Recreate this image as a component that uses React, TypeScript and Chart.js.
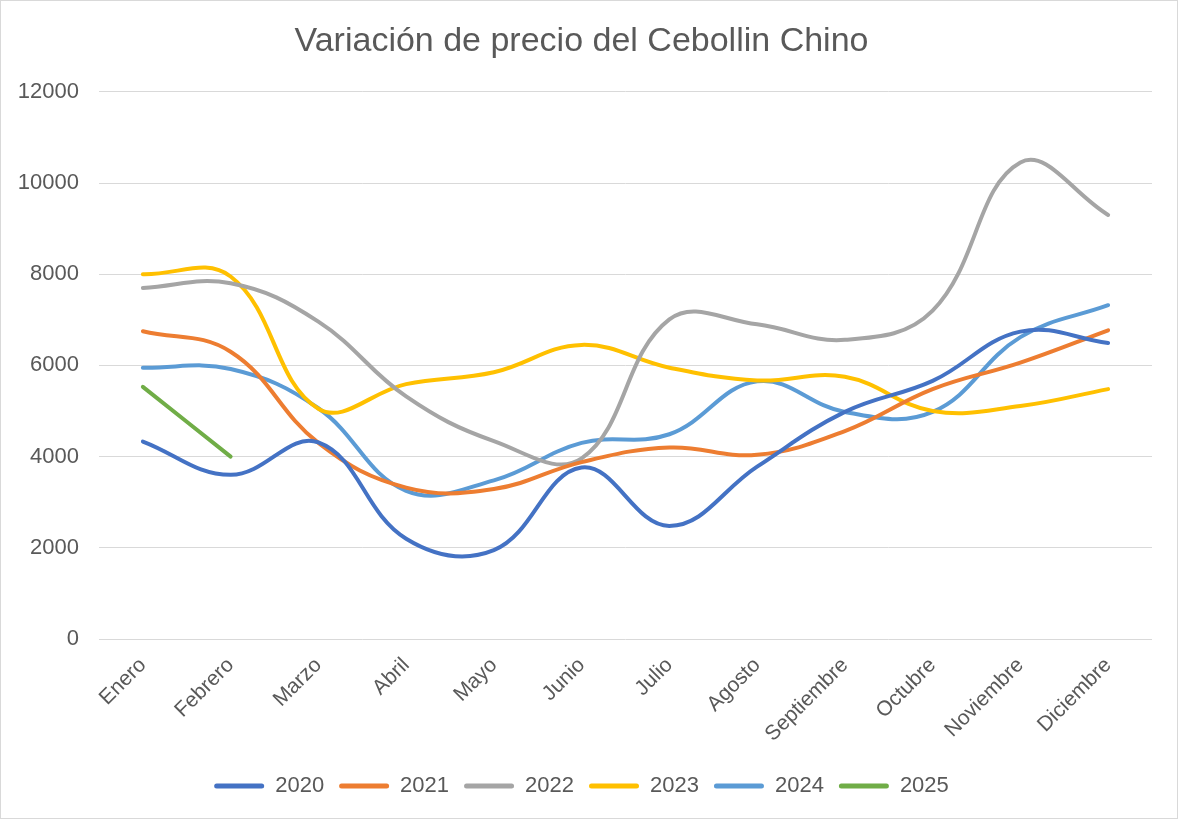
import React, { useEffect, useRef } from "react";
import { Chart, registerables } from "chart.js";

Chart.register(...registerables);

const months = ["Enero", "Febrero", "Marzo", "Abril", "Mayo", "Junio", "Julio", "Agosto", "Septiembre", "Octubre", "Noviembre", "Diciembre"];
const y2020 = [4330, 3600, 4310, 2200, 1950, 3760, 2480, 3780, 4980, 5660, 6740, 6490];
const y2021 = [6750, 6300, 4300, 3320, 3290, 3880, 4200, 4040, 4560, 5480, 6060, 6770];
const y2022 = [7700, 7800, 6960, 5320, 4340, 3960, 7010, 6900, 6560, 7200, 10450, 9300];
const y2023 = [8000, 7950, 5050, 5590, 5850, 6450, 5950, 5670, 5750, 5000, 5110, 5480];
const y2024 = [5950, 5920, 5060, 3250, 3480, 4300, 4490, 5650, 4980, 4980, 6620, 7320];
const y2025 = [5530, 4000];
const yTicks = [0, 2000, 4000, 6000, 8000, 10000, 12000];

const seriesNames = ["2020", "2021", "2022", "2023", "2024", "2025"];
const seriesColors = ["#4472C4", "#ED7D31", "#A5A5A5", "#FFC000", "#5B9BD5", "#70AD47"];
const seriesValues = [y2020, y2021, y2022, y2023, y2024, y2025];

const FONT = "'Liberation Sans', Arial, sans-serif";
const TEXT = "#595959";

export default function App() {
  const ref = useRef<HTMLCanvasElement | null>(null);

  useEffect(() => {
    if (!ref.current) return;
    const chart = new Chart(ref.current, {
      type: "line",
      data: {
        labels: months,
        datasets: seriesNames.map((name, i) => ({
          label: name,
          data: seriesValues[i],
          borderColor: seriesColors[i],
          backgroundColor: seriesColors[i],
          borderWidth: 4,
          pointRadius: 0,
          tension: 0.4,
          fill: false,
          borderCapStyle: "round" as const,
        })),
      },
      options: {
        responsive: false,
        animation: false,
        layout: { padding: { left: 10, right: 25, top: 0, bottom: 11 } },
        plugins: {
          title: {
            display: true,
            text: "Variación de precio del Cebollin Chino",
            color: TEXT,
            font: { family: FONT, size: 34, weight: "normal" },
            padding: { top: 20, bottom: 30 },
          },
          legend: {
            position: "bottom",
            labels: {
              color: TEXT,
              font: { family: FONT, size: 22 },
              boxWidth: 50,
              boxHeight: 5,
              padding: 15,
              useBorderRadius: true,
              borderRadius: 2.5,
              generateLabels: (c: any) =>
                Chart.defaults.plugins.legend.labels.generateLabels(c).map((l: any) => ({ ...l, lineWidth: 0 })),
            },
          },
          tooltip: { enabled: false },
        },
        scales: {
          x: {
            offset: true,
            grid: { display: false },
            border: { display: false },
            ticks: {
              color: TEXT,
              font: { family: FONT, size: 21 },
              maxRotation: 45,
              minRotation: 45,
              padding: 6,
            },
            afterFit: (s: any) => {
              s.height = 121;
            },
          },
          y: {
            min: 0,
            max: 12000,
            afterBuildTicks: (s: any) => {
              s.ticks = yTicks.map((v) => ({ value: v }));
            },
            grid: { color: "#D9D9D9", lineWidth: 1, drawTicks: false },
            border: { display: false },
            ticks: {
              color: TEXT,
              font: { family: FONT, size: 22 },
              padding: 20,
              callback: (v: any) => String(v),
            },
            afterFit: (s: any) => {
              s.width = 88;
            },
          },
        },
      },
    });
    return () => chart.destroy();
  }, []);

  return (
    <div
      style={{
        position: "fixed",
        left: 0,
        top: 0,
        width: 1178,
        height: 819,
        background: "#fff",
        boxSizing: "border-box",
        border: "1px solid #D9D9D9",
      }}
    >
      <canvas ref={ref} width={1176} height={817} style={{ display: "block" }} />
    </div>
  );
}
